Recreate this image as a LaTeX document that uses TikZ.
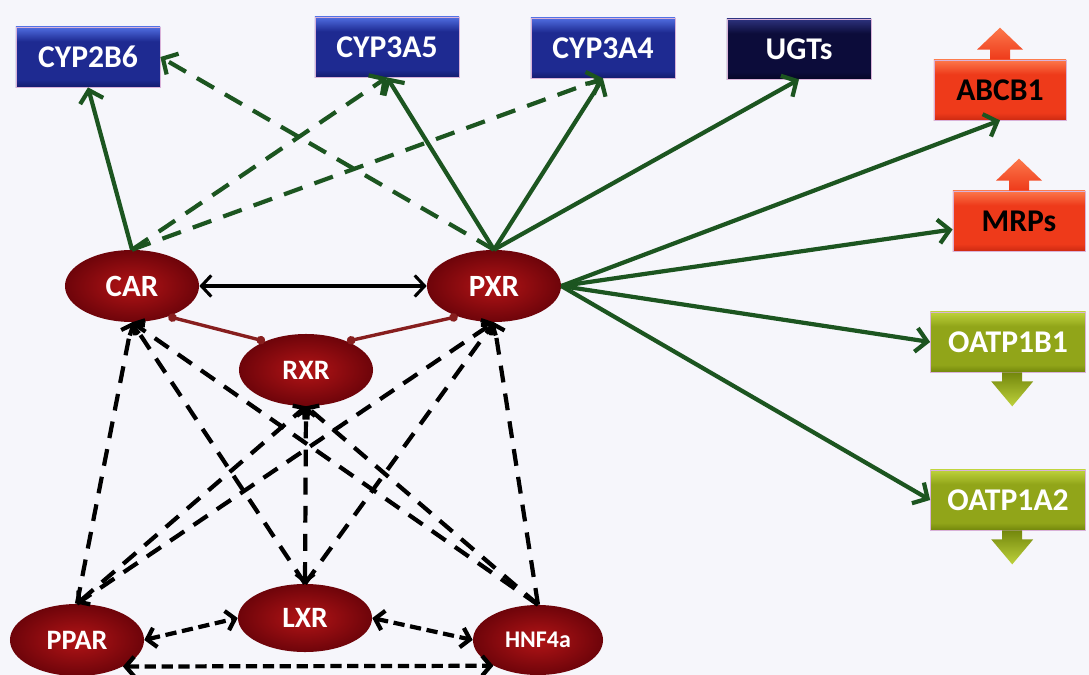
\documentclass[tikz,border=0pt]{standalone}
\usepackage{fontspec}
\setmainfont{Carlito}
\usetikzlibrary{arrows.meta,shapes.geometric}
\definecolor{cypblue}{RGB}{30,42,145}
\definecolor{cypdark}{RGB}{20,28,110}
\definecolor{cyptop}{RGB}{80,110,225}
\definecolor{ugtnavy}{RGB}{12,12,58}
\definecolor{ugtdark}{RGB}{6,6,38}
\definecolor{ugttop}{RGB}{45,50,125}
\definecolor{effred}{RGB}{238,58,26}
\definecolor{effdark}{RGB}{205,42,18}
\definecolor{efftop}{RGB}{252,120,75}
\definecolor{uptgreen}{RGB}{145,165,25}
\definecolor{uptdark}{RGB}{115,135,12}
\definecolor{upttop}{RGB}{190,210,60}
\definecolor{nrred}{RGB}{110,4,10}
\definecolor{nrinner}{RGB}{178,20,22}
\definecolor{linkgreen}{RGB}{28,85,32}
\definecolor{linkred}{RGB}{135,30,30}
\definecolor{bgpaper}{RGB}{246,246,251}
% bevel-like vertical shadings for the gene boxes
\pgfdeclareverticalshading{cypshade}{100bp}{color(0bp)=(cypdark); color(25bp)=(cypdark); color(31bp)=(cypblue);
  color(63bp)=(cypblue); color(75bp)=(cyptop); color(100bp)=(cyptop)}
\pgfdeclareverticalshading{ugtshade}{100bp}{color(0bp)=(ugtdark); color(25bp)=(ugtdark); color(31bp)=(ugtnavy);
  color(63bp)=(ugtnavy); color(75bp)=(ugttop); color(100bp)=(ugttop)}
\pgfdeclareverticalshading{effshade}{100bp}{color(0bp)=(effdark); color(25bp)=(effdark); color(31bp)=(effred);
  color(63bp)=(effred); color(75bp)=(efftop); color(100bp)=(efftop)}
\pgfdeclareverticalshading{uptshade}{100bp}{color(0bp)=(uptdark); color(25bp)=(uptdark); color(31bp)=(uptgreen);
  color(63bp)=(uptgreen); color(75bp)=(upttop); color(100bp)=(upttop)}
\tikzset{
  genebox/.style={rectangle,inner sep=0pt,minimum height=1.5cm,draw=violet!30,line width=0.5pt,shade,
    font=\fontsize{22.5}{24}\selectfont\bfseries},
  enzbox/.style={genebox,minimum width=3.6cm,shading=cypshade,text=white},
  ugtbox/.style={genebox,minimum width=3.6cm,shading=ugtshade,text=white},
  effbox/.style={genebox,minimum width=3.3cm,shading=effshade,text=black},
  uptbox/.style={genebox,minimum width=3.875cm,shading=uptshade,text=white},
  receptor/.style={ellipse,inner sep=0pt,minimum width=3.35cm,minimum height=1.8cm,
    inner color=nrinner,outer color=nrred,text=white,font=\fontsize{22}{24}\selectfont\bfseries},
  grnarr/.style={draw=linkgreen,line width=3pt,-{Straight Barb[length=8pt,width=17pt]}},
  grndash/.style={grnarr,dash pattern=on 14pt off 9pt},
  blkarr/.style={draw=black,line width=2.2pt,{Straight Barb[length=7pt,width=15pt]}-{Straight Barb[length=7pt,width=15pt]}},
  blkdash/.style={draw=black,line width=3pt,dash pattern=on 12pt off 8pt,
    >={Straight Barb[length=5pt,width=13pt]}},
  botdash/.style={draw=black,line width=3pt,dash pattern=on 8pt off 4pt,
    >={Straight Barb[length=6pt,width=14pt]}},
  redlink/.style={draw=linkred,line width=2.4pt,{Circle[length=6pt]}-{Circle[length=6pt]}}
}
\begin{document}
\begin{tikzpicture}[x=0.025cm,y=-0.025cm]
\fill[bgpaper] (0,0) rectangle (1089,675);
\useasboundingbox (0,0) rectangle (1089,675);
% target genes
\node[enzbox] (cyp2b6) at (88,57) {CYP2B6};
\node[enzbox] (cyp3a5) at (387,47) {CYP3A5};
\node[enzbox] (cyp3a4) at (603,48) {CYP3A4};
\node[ugtbox] (ugt) at (799,49) {UGTs};
\node[effbox] (abcb) at (1000,90) {ABCB1};
\node[effbox] (mrp) at (1019,221) {MRPs};
\node[uptbox] (oatpb) at (1008,342) {OATP1B1};
\node[uptbox] (oatpa) at (1008,500) {OATP1A2};
% up / down regulation
\foreach \n in {abcb,mrp}
  \shade[top color=efftop,bottom color=effred] (\n.north) ++(-10,0) -- ++(0,-10) -- ++(-13,0)
    -- ++(23,-22) -- ++(23,22) -- ++(-13,0) -- ++(0,10) -- cycle;
\foreach \n in {oatpb,oatpa}
  \shade[top color=uptdark,bottom color=upttop] ([xshift=3pt]\n.south) ++(-10,0) -- ++(0,9) -- ++(-11,0)
    -- ++(21,25) -- ++(21,-25) -- ++(-11,0) -- ++(0,-9) -- cycle;
% nuclear receptors
\node[receptor] (car) at (132,286) {CAR};
\node[receptor] (pxr) at (494,286) {PXR};
\node[receptor,font=\fontsize{20}{22}\selectfont\bfseries] (rxr) at (306,370) {RXR};
\node[receptor,font=\fontsize{20}{22}\selectfont\bfseries] (ppar) at (77,640) {PPAR};
\node[receptor,minimum height=1.7cm,font=\fontsize{21}{23}\selectfont\bfseries] (lxr) at (305,618) {LXR};
\node[receptor,minimum width=3.25cm,minimum height=1.75cm,font=\fontsize{17}{19}\selectfont\bfseries] (hnf) at (538,640) {HNF4a};
% regulation of targets
\draw[grnarr] (car.north) -- (cyp2b6.south);
\foreach \t in {cyp3a5,cyp3a4}
  \draw[grndash] (car.north) -- (\t.south);
\draw[grndash] (pxr.north) -- (cyp2b6.east);
\foreach \t in {cyp3a5,cyp3a4,ugt}
  \draw[grnarr] (pxr.north) -- (\t.south);
\draw[grnarr] (pxr.east) -- (abcb.south);
\draw[grnarr] (pxr.east) -- ([yshift=-6pt]mrp.west);
\foreach \t in {oatpb,oatpa}
  \draw[grnarr] (pxr.east) -- (\t.west);
% CAR/PXR and RXR
\draw[blkarr] (car) -- (pxr);
\draw[redlink] (car.-40) -- (rxr.145);
\draw[redlink] (pxr.-140) -- (rxr.35);
% cross talk
\foreach \s/\t in {ppar/car,ppar/pxr,lxr/car,lxr/pxr,hnf/car,hnf/rxr,hnf/pxr}
  \draw[blkdash,->] (\s.north) -- (\t.south);
\foreach \s in {ppar,lxr}
  \draw[blkdash,<->] (\s.north) -- (rxr.south);
\draw[botdash,<->] (ppar.east) -- (lxr.west);
\draw[botdash,<->] (lxr.east) -- (hnf.west);
\draw[botdash,<->] (ppar.-30) -- (hnf.-150);
\end{tikzpicture}
\end{document}
